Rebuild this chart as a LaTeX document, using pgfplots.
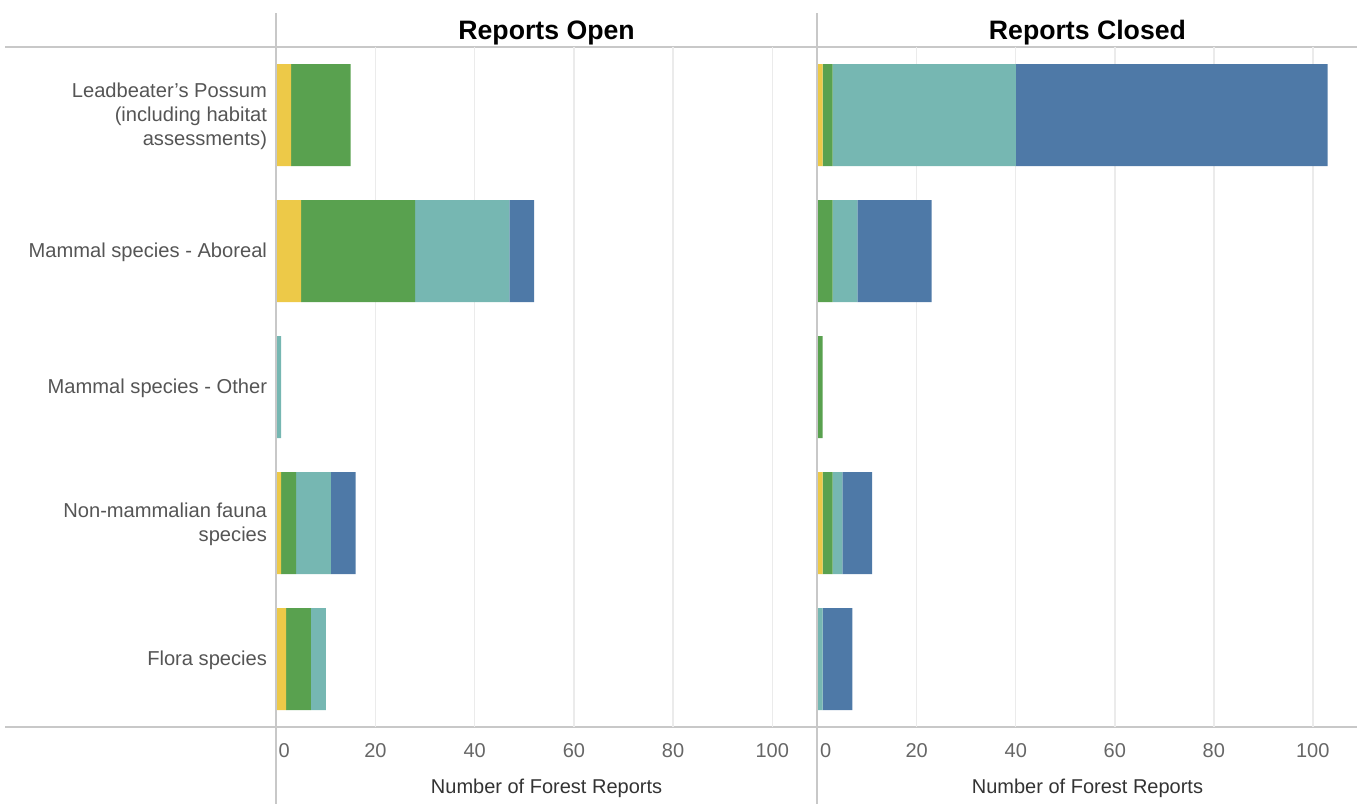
\documentclass[border=0pt]{standalone}
\usepackage{pgfplots}
\pgfplotsset{compat=1.18}
\usepackage{pgfplotstable}
\usepackage{fontspec}
\setmainfont{Liberation Sans}

\definecolor{cYel}{HTML}{EDC948}
\definecolor{cGrn}{HTML}{59A14F}
\definecolor{cTeal}{HTML}{76B7B2}
\definecolor{cBlue}{HTML}{4E79A7}
\definecolor{frame}{HTML}{C8C8C8}
\definecolor{gridc}{HTML}{EBEBEB}
\definecolor{lab}{HTML}{555555}
\definecolor{tick}{HTML}{666666}

% rows: 0 Leadbeater, 1 Aboreal, 2 Other, 3 Non-mammalian, 4 Flora
\pgfplotstableread{
y yel grn teal blue
0 3 12 0 0
1 5 23 19 5
2 0 0 1 0
3 1 3 7 5
4 2 5 3 0
}\open
\pgfplotstableread{
y yel grn teal blue
0 1 2 37 63
1 0 3 5 15
2 0 1 0 0
3 1 2 2 6
4 0 0 1 6
}\closed

\pgfplotsset{
  panel/.style={
    scale only axis,
    height=510pt,
    xbar stacked,
    bar width=0.75,
    xmin=0, xmax=109,
    ymin=-0.5, ymax=4.5,
    y dir=reverse,
    axis line style={draw=none},
    xtick={0,20,...,100},
    ytick={0,...,4},
    xmajorgrids,
    major grid style={gridc, line width=1.1pt},
    xtick style={draw=none},
    ytick style={draw=none},
    xtick pos=bottom,
    /pgf/number format/assume math mode=true,
    xticklabel style={font=\fontsize{15}{18}\selectfont, text=tick, anchor=base, yshift=-23pt, inner sep=0pt},
    xticklabel={\ifdim\tick pt=0pt\hspace*{12pt}\fi\pgfmathprintnumber{\tick}},
    every axis plot/.append style={draw=none},
  }
}

\begin{document}
\begin{tikzpicture}
\useasboundingbox (0,0) rectangle (1023pt,-603pt);

% frame lines
\draw[frame, line width=1.1pt] (3.75pt,-35.25pt) -- (1018pt,-35.25pt);
\draw[frame, line width=1.1pt] (3.75pt,-545.25pt) -- (1018pt,-545.25pt);

\begin{axis}[panel,
  at={(207.2pt,-545.25pt)}, anchor=south west,
  width=405.5pt,
  yticklabels={{Leadbeater’s Possum\\(including habitat\\assessments)},
    {Mammal species - Aboreal},{Mammal species - Other},
    {Non-mammalian fauna\\species},{Flora species}},
  yticklabel style={align=right, anchor=east, inner sep=0pt, xshift=-6.75pt, yshift=-1.2pt,
    font=\fontsize{15.1}{18}\selectfont, text=lab},
]
\addplot[fill=cYel] table[x=yel,y=y] {\open};
\addplot[fill=cGrn] table[x=grn,y=y] {\open};
\addplot[fill=cTeal] table[x=teal,y=y] {\open};
\addplot[fill=cBlue] table[x=blue,y=y] {\open};
\end{axis}

\begin{axis}[panel,
  at={(613.3pt,-545.25pt)}, anchor=south west,
  width=404.7pt,
  yticklabels={},
]
\addplot[fill=cYel] table[x=yel,y=y] {\closed};
\addplot[fill=cGrn] table[x=grn,y=y] {\closed};
\addplot[fill=cTeal] table[x=teal,y=y] {\closed};
\addplot[fill=cBlue] table[x=blue,y=y] {\closed};
\end{axis}

\draw[frame, line width=1.1pt] (207pt,-9.75pt) -- (207pt,-603pt);
\draw[frame, line width=1.1pt] (612.9pt,-9.75pt) -- (612.9pt,-603pt);

% panel titles
\node[anchor=base, font=\fontsize{20}{24}\selectfont\bfseries] at (409.9pt,-29.6pt) {Reports Open};
\node[anchor=base, font=\fontsize{20}{24}\selectfont\bfseries] at (815.6pt,-29.6pt) {Reports Closed};
% axis titles
\node[anchor=base, font=\fontsize{15}{18}\selectfont, text=black!80] at (409.9pt,-594.75pt) {Number of Forest Reports};
\node[anchor=base, font=\fontsize{15}{18}\selectfont, text=black!80] at (815.6pt,-594.75pt) {Number of Forest Reports};
\end{tikzpicture}
\end{document}
